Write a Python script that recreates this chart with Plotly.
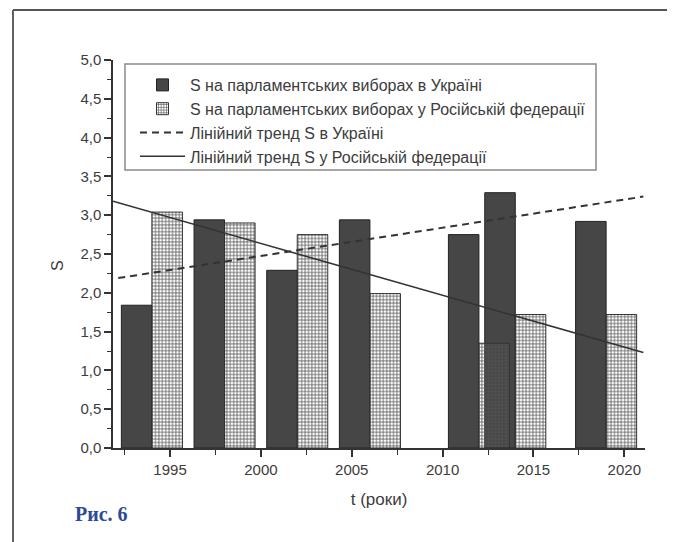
import plotly.graph_objects as go

# ---- data ----
group_years = [1994, 1998, 2002, 2006, 2012, 2014, 2019]
s_ukraine = [1.84, 2.94, 2.29, 2.94, 2.75, 3.29, 2.92]
s_russia = [3.04, 2.90, 2.75, 1.99, 1.35, 1.72, 1.72]

trend_years_ua = [1992.15, 2021.05]
trend_ua = [2.19, 3.24]
trend_years_ru = [1991.86, 2021.05]
trend_ru = [3.18, 1.23]

names = [
    "S на парламентських виборах в Україні",
    "S на парламентських виборах у Російській федерації",
    "Лінійний тренд S в Україні",
    "Лінійний тренд S у Російській федерації",
]
x_ticks = [1995, 2000, 2005, 2010, 2015, 2020]
y_ticks = [0, 0.5, 1, 1.5, 2, 2.5, 3, 3.5, 4, 4.5, 5]

# ---- layout geometry (page pixels; the page body adds an 8px offset) ----
W, H = 675, 542
OFF = 8
PL, PR, PT, PB = 113, 645, 60, 448   # plot area in page pixels
L, R, T, B = PL - OFF, W - (PR - OFF), PT - OFF, H - (PB - OFF)
pw, ph = PR - PL, PB - PT


def px(xp):
    return (xp - PL) / pw


def py(yp):
    return (PB - yp) / ph


BAR_W = 1.68
DARK = "#464646"
INK = "#333333"
TXT = "#3c3c3c"

fig = go.Figure()
fig.add_trace(go.Bar(
    x=group_years, y=s_ukraine, name=names[0],
    width=BAR_W, offset=-BAR_W,
    marker=dict(color=DARK, line=dict(color="#222222", width=1)),
))
fig.add_trace(go.Bar(
    x=group_years, y=s_russia, name=names[1],
    width=BAR_W, offset=0,
    marker=dict(color="rgba(255,255,255,0)", line=dict(color="#333333", width=1),
                pattern=dict(shape="+", size=3.4, solidity=0.4, fgcolor="#555555",
                             fillmode="replace")),
))
fig.add_trace(go.Scatter(
    x=trend_years_ua, y=trend_ua, name=names[2], mode="lines",
    line=dict(color=INK, width=2, dash="7px,5px"),
))
fig.add_trace(go.Scatter(
    x=trend_years_ru, y=trend_ru, name=names[3], mode="lines",
    line=dict(color=INK, width=1.6),
))

# frame and legend box
shapes = [
    dict(type="line", xref="paper", yref="paper", x0=px(13), x1=px(13), y0=py(10), y1=py(560),
         line=dict(color="#3a3a3a", width=1.6)),
    dict(type="line", xref="paper", yref="paper", x0=px(13), x1=px(674), y0=py(10), y1=py(10),
         line=dict(color="#555555", width=2)),
    dict(type="line", xref="paper", yref="paper", x0=px(674), x1=px(674), y0=py(10), y1=py(560),
         line=dict(color="#999999", width=1)),
    dict(type="rect", xref="paper", yref="paper", x0=px(125), x1=px(596), y0=py(170), y1=py(64),
         line=dict(color="#8a8a8a", width=1.5)),
]

fig.update_layout(
    width=W, height=H,
    margin=dict(l=L, r=R, t=T, b=B, pad=0),
    paper_bgcolor="white", plot_bgcolor="white",
    barmode="overlay",
    separators=", ",
    font=dict(family="Liberation Sans, Arial, sans-serif", size=15, color=TXT),
    showlegend=True,
    legend=dict(x=px(135), y=py(68), xanchor="left", yanchor="top",
                bgcolor="rgba(0,0,0,0)", borderwidth=0,
                font=dict(size=16, color=TXT), itemwidth=45, tracegroupgap=0,
                traceorder="normal"),
    shapes=shapes,
    annotations=[
        dict(text="S", xref="paper", yref="paper", x=px(57), y=py(266), textangle=-90,
             showarrow=False, font=dict(size=16, color=TXT), xanchor="center", yanchor="middle"),
        dict(text="<b>Рис. 6</b>", xref="paper", yref="paper", x=px(73), y=py(514),
             showarrow=False, xanchor="left", yanchor="middle",
             font=dict(family="Liberation Serif, DejaVu Serif, serif", size=20, color="#2d4a98")),
    ],
)
fig.update_xaxes(
    range=[1991.86, 2021.14], tickvals=x_ticks, ticktext=[str(v) for v in x_ticks],
    showline=True, linecolor=INK, linewidth=1.5, showgrid=False, zeroline=False,
    ticks="outside", ticklen=7, tickwidth=1.5, tickcolor=INK,
    minor=dict(dtick=2.5, tick0=1992.5, ticks="outside", ticklen=5, tickwidth=1.2, tickcolor=INK),
    tickfont=dict(size=15, color=TXT),
    title=dict(text="t (роки)", font=dict(size=17, color=TXT), standoff=16),
)
fig.update_yaxes(
    range=[0, 5], tickvals=y_ticks, tickformat=".1f",
    showline=True, linecolor=INK, linewidth=1.5, showgrid=False, zeroline=False,
    ticks="outside", ticklen=7, tickwidth=1.5, tickcolor=INK,
    minor=dict(dtick=0.25, ticks="outside", ticklen=4, tickwidth=1.2, tickcolor=INK),
    tickfont=dict(size=15, color=TXT),
)

fig.write_html("out.html")
